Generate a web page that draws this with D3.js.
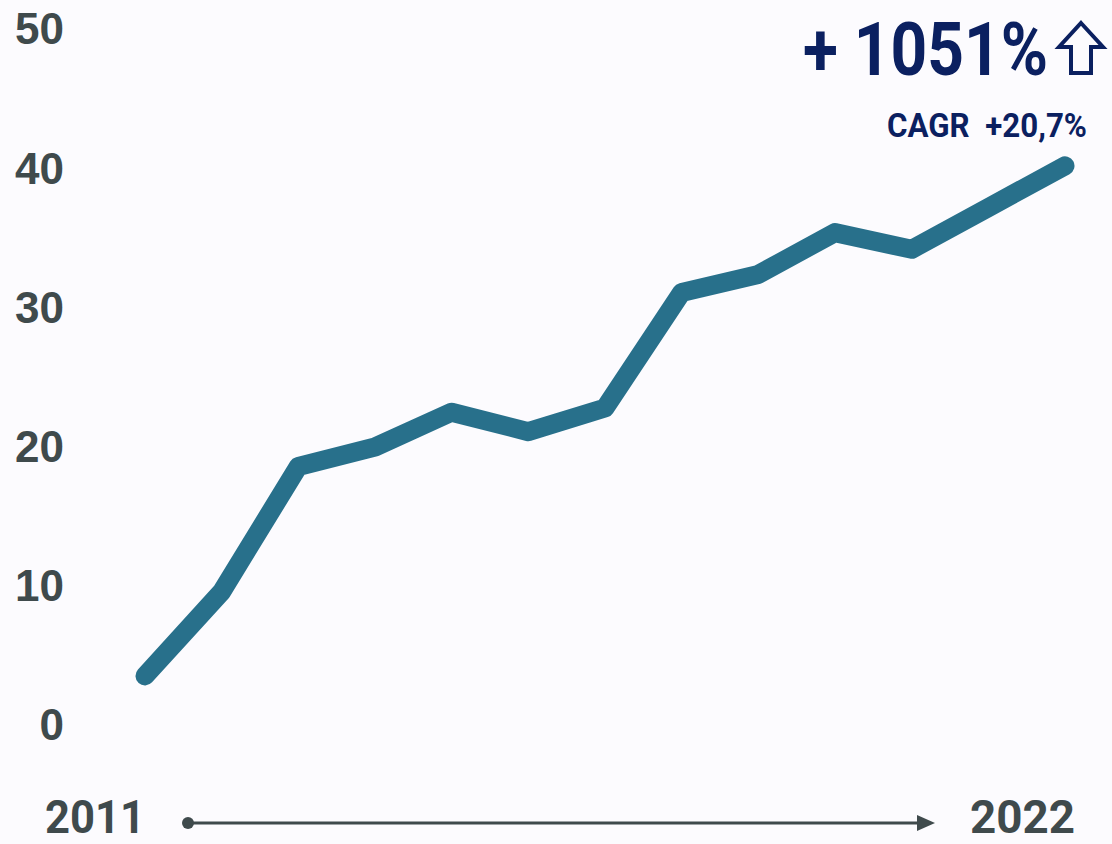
<!DOCTYPE html>
<html>
<head>
<meta charset="utf-8">
<script src="https://cdn.jsdelivr.net/npm/d3@7"></script>
<style>
  html, body { margin: 0; padding: 0; background: #fcfbfe; }
  svg { display: block; }
  text { white-space: pre; }
</style>
</head>
<body>
<svg id="chart" width="1112" height="844"></svg>
<script>
// values
const years = ["2010", "2011", "2012", "2013", "2014", "2015", "2016", "2017", "2018", "2019", "2020", "2021", "2022"];
const values = [3.45, 9.5, 18.5, 19.9, 22.4, 21.0, 22.7, 31.0, 32.3, 35.3, 34.1, 37.1, 40.1];
const yTicks = [0, 10, 20, 30, 40, 50];
const startLabel = "2011";
const endLabel = "2022";
const growthLabel = "+ 1051%";
const cagrLabel = "CAGR  +20,7%";

const navy = "#0b2060";
const grey = "#3f4a4c";
const lineColor = "#28708b";
const narrow = "'Liberation Sans Narrow', 'Roboto', sans-serif";

const svg = d3.select("#chart");

const x = d3.scalePoint()
    .domain(years)
    .range([145, 1065]);

const y = d3.scaleLinear()
    .domain([0, 50])
    .range([724, 28]);

// y axis labels only, no line
const yAxis = d3.axisLeft(y)
    .tickValues(yTicks)
    .tickSize(0)
    .tickPadding(0);

svg.append("g")
    .attr("transform", "translate(64,0)")
    .call(yAxis)
    .call(g => g.select(".domain").remove())
    .call(g => g.selectAll("text")
        .attr("fill", grey)
        .attr("font-family", "'Liberation Sans', Arial, sans-serif")
        .attr("font-weight", "bold")
        .attr("font-size", 44)
        .attr("dy", "0.36em"));

// the series
const line = d3.line()
    .x((d, i) => x(years[i]))
    .y(d => y(d));

svg.append("path")
    .datum(values)
    .attr("d", line)
    .attr("fill", "none")
    .attr("stroke", lineColor)
    .attr("stroke-width", 19)
    .attr("stroke-linecap", "round")
    .attr("stroke-linejoin", "round");

// time arrow at the bottom
const arrowY = 823;
const arrowStart = x.range()[0] + 43;
const arrowEnd = x.range()[1] - 130;

svg.append("line")
    .attr("x1", arrowStart)
    .attr("x2", arrowEnd - 12)
    .attr("y1", arrowY)
    .attr("y2", arrowY)
    .attr("stroke", grey)
    .attr("stroke-width", 3);

svg.append("circle")
    .attr("cx", arrowStart)
    .attr("cy", arrowY)
    .attr("r", 6)
    .attr("fill", grey);

svg.append("path")
    .attr("d", `M${arrowEnd - 18},${arrowY - 8}L${arrowEnd},${arrowY}L${arrowEnd - 18},${arrowY + 8}Z`)
    .attr("fill", grey);

svg.append("text")
    .attr("x", 45)
    .attr("y", 833)
    .attr("fill", grey)
    .attr("font-family", narrow)
    .attr("font-weight", "bold")
    .attr("font-size", 46)
    .attr("textLength", 100)
    .attr("lengthAdjust", "spacingAndGlyphs")
    .text(startLabel);

svg.append("text")
    .attr("x", 970)
    .attr("y", 833)
    .attr("fill", grey)
    .attr("font-family", narrow)
    .attr("font-weight", "bold")
    .attr("font-size", 46)
    .attr("textLength", 105)
    .attr("lengthAdjust", "spacingAndGlyphs")
    .text(endLabel);

// growth annotation
svg.append("text")
    .attr("x", 803)
    .attr("y", 75)
    .attr("fill", navy)
    .attr("font-family", narrow)
    .attr("font-weight", "bold")
    .attr("font-size", 74)
    .attr("textLength", 245)
    .attr("lengthAdjust", "spacingAndGlyphs")
    .text(growthLabel);

svg.append("path")
    .attr("d", "M1081,23L1103,47L1091,47L1091,73L1071,73L1071,47L1059,47Z")
    .attr("fill", "none")
    .attr("stroke", navy)
    .attr("stroke-width", 4)
    .attr("stroke-linejoin", "miter");

svg.append("text")
    .attr("x", 887)
    .attr("y", 137)
    .attr("fill", navy)
    .attr("font-family", narrow)
    .attr("font-weight", "bold")
    .attr("font-size", 33)
    .attr("textLength", 200)
    .attr("lengthAdjust", "spacingAndGlyphs")
    .text(cagrLabel);
</script>
</body>
</html>
